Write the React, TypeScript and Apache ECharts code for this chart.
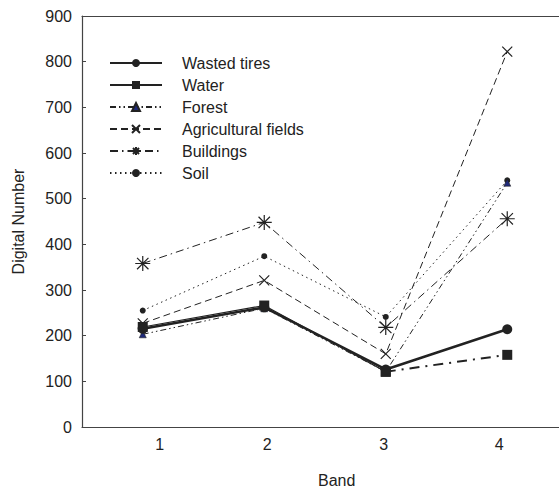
import React, { useEffect, useRef } from "react";
import * as echarts from "echarts";

const bands = ["1", "2", "3", "4"];
const wastedTires = [215, 262, 126, 214];
const water = [219, 266, 121, 158];
const forest = [203, 260, 121, 535];
const agricultural = [227, 321, 160, 822];
const buildings = [358, 448, 218, 456];
const soil = [255, 374, 241, 540];
const yTicks = [0, 100, 200, 300, 400, 500, 600, 700, 800, 900];

const INK = "#222";
const AXIS = "#444";
const FONT = "Liberation Sans, Arial, sans-serif";
const crossPath = "path://M0,0L10,10M10,0L0,10";
const asteriskPath = "path://M5,0L5,10M0,5L10,5M1.2,1.2L8.8,8.8M8.8,1.2L1.2,8.8";

// per-label horizontal nudges (padding) to mimic the source layout
const labelPad: number[][] = [
  [0, 0, 0, 34],
  [0, 0, 0, 6],
  [0, 4, 0, 0],
  [0, 16, 0, 0],
];

export default function App() {
  const ref = useRef<HTMLDivElement>(null);
  useEffect(() => {
    if (!ref.current) return;
    const chart = echarts.init(ref.current, null, { renderer: "svg" });
    const waterMain = water.map((v, i) => (i < 3 ? v : "-"));
    const waterTail = water.map((v, i) => (i >= 2 ? v : "-"));
    const rich: Record<string, any> = {};
    labelPad.forEach((p, i) => {
      rich["b" + i] = { fontSize: 16, color: INK, fontFamily: FONT, padding: p };
    });
    chart.setOption({
      animation: false,
      backgroundColor: "#fff",
      textStyle: { fontFamily: FONT },
      grid: {
        left: 82,
        top: 16,
        right: 32,
        bottom: 61,
        show: false,
        containLabel: false,
        outerBoundsMode: "none",
      },
      legend: {
        data: ["Wasted tires", "Water", "Forest", "Agricultural fields", "Buildings", "Soil"],
        orient: "vertical",
        left: 109,
        top: 55,
        padding: 0,
        itemWidth: 52,
        itemHeight: 10,
        itemGap: 6,
        textStyle: { fontSize: 16, lineHeight: 16, color: INK, padding: [0, 0, 0, 15] },
        selectedMode: false,
      },
      xAxis: [
        {
          type: "category",
          data: bands,
          boundaryGap: true,
          axisLine: { lineStyle: { color: AXIS, width: 1.2 } },
          axisTick: { inside: true, length: 4, lineStyle: { color: AXIS } },
          axisLabel: {
            fontSize: 16,
            color: INK,
            margin: 9,
            formatter: (v: string, i: number) => `{b${i}|${v}}`,
            rich,
          },
          splitLine: { show: false },
        },
        {
          type: "category",
          data: bands,
          position: "top",
          axisLine: { show: true, lineStyle: { color: AXIS, width: 1.2 } },
          axisTick: { show: false },
          axisLabel: { show: false },
          splitLine: { show: false },
        },
      ],
      yAxis: {
        type: "value",
        min: yTicks[0],
        max: yTicks[yTicks.length - 1],
        interval: 100,
        name: "Digital Number",
        nameLocation: "middle",
        nameGap: 56,
        nameTextStyle: { fontSize: 16, color: INK },
        axisLine: { show: true, lineStyle: { color: AXIS, width: 1.2 } },
        axisTick: { show: true, inside: true, length: 4, lineStyle: { color: AXIS } },
        axisLabel: { fontSize: 16, color: INK, margin: 10 },
        splitLine: { show: false },
      },
      graphic: [
        {
          type: "text",
          left: 318,
          top: 472,
          style: { text: "Band", fontSize: 16, fill: INK, fontFamily: FONT },
        },
      ],
      series: [
        {
          name: "Soil",
          type: "line",
          data: soil,
          symbol: "circle",
          symbolSize: 6,
          itemStyle: { color: INK },
          lineStyle: { color: INK, width: 1, type: [1.5, 3.5] },
        },
        {
          name: "Buildings",
          type: "line",
          data: buildings,
          symbol: asteriskPath,
          symbolSize: 15,
          itemStyle: { color: "#fff", borderColor: INK, borderWidth: 1.2 },
          lineStyle: { color: INK, width: 1, type: [8, 4, 1.5, 4] },
        },
        {
          name: "Agricultural fields",
          type: "line",
          data: agricultural,
          symbol: crossPath,
          symbolSize: 10,
          itemStyle: { color: "#fff", borderColor: INK, borderWidth: 1.2 },
          lineStyle: { color: INK, width: 1, type: [7, 4] },
        },
        {
          name: "Forest",
          type: "line",
          data: forest,
          symbol: "triangle",
          symbolSize: 7,
          itemStyle: { color: "#1f2a7a", borderColor: INK, borderWidth: 0.6 },
          lineStyle: { color: INK, width: 1, type: [6, 3, 1.5, 3, 1.5, 3] },
        },
        {
          name: "Water tail",
          type: "line",
          data: waterTail,
          symbol: "rect",
          symbolSize: 10,
          itemStyle: { color: INK },
          lineStyle: { color: INK, width: 2, type: [10, 6, 2, 6] },
        },
        {
          name: "Water",
          type: "line",
          data: waterMain,
          symbol: "rect",
          symbolSize: 10,
          itemStyle: { color: INK },
          lineStyle: { color: INK, width: 1.2, type: "solid" },
        },
        {
          name: "Wasted tires",
          type: "line",
          data: wastedTires,
          symbol: "circle",
          symbolSize: 10,
          itemStyle: { color: INK },
          lineStyle: { color: INK, width: 2.5, type: "solid" },
        },
      ],
    });
    return () => chart.dispose();
  }, []);
  return (
    <div
      style={{
        position: "absolute",
        left: 0,
        top: 0,
        width: 559,
        height: 488,
        overflow: "hidden",
        background: "#fff",
      }}
    >
      <div ref={ref} style={{ width: 600, height: 488 }} />
    </div>
  );
}
